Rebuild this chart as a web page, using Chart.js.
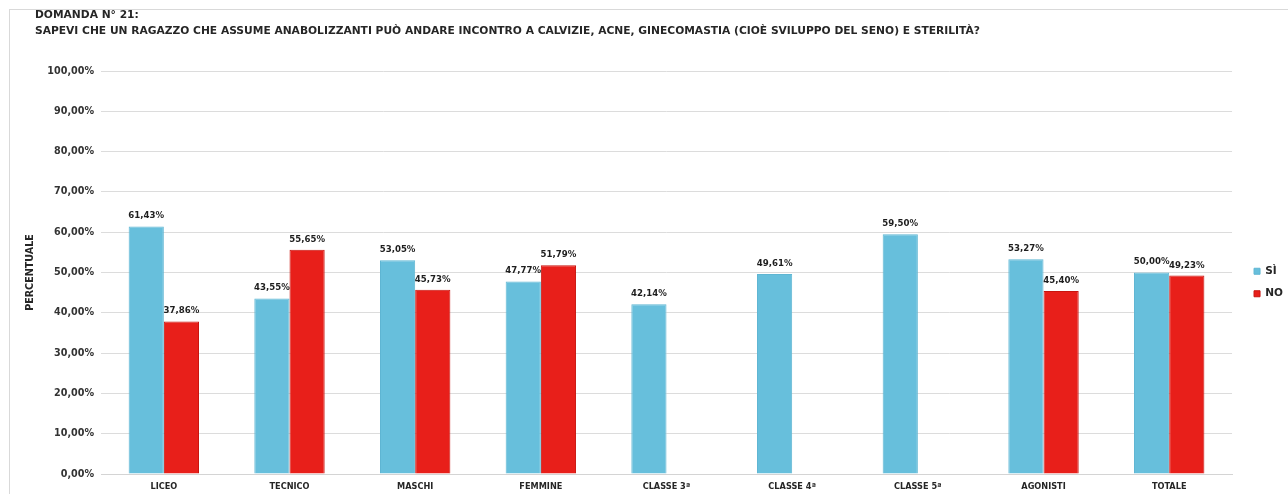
<!DOCTYPE html>
<html>
<head>
<meta charset="utf-8">
<script src="https://cdn.jsdelivr.net/npm/chart.js@4.4.1/dist/chart.umd.min.js"></script>
<style>
  html, body { margin: 0; padding: 0; background: #ffffff; }
  #wrap { width: 1288px; height: 494px; position: relative; }
</style>
</head>
<body>
<div id="wrap"><canvas id="chart" width="1288" height="494"></canvas></div>
<script>
// Survey question 21 – answers split by school type, sex, class year and athletes
const categories = ['LICEO', 'TECNICO', 'MASCHI', 'FEMMINE', 'CLASSE 3ª', 'CLASSE 4ª', 'CLASSE 5ª', 'AGONISTI', 'TOTALE'];
const siValues = [61.43, 43.55, 53.05, 47.77, 42.14, 49.61, 59.50, 53.27, 50.00];
const noValues = [37.86, 55.65, 45.73, 51.79, null, null, null, 45.40, 49.23];
const seriesNames = ['SÌ', 'NO'];
const yTickValues = [0, 10, 20, 30, 40, 50, 60, 70, 80, 90, 100];
const titleLines = [
  'DOMANDA N° 21:',
  'SAPEVI CHE UN RAGAZZO CHE ASSUME ANABOLIZZANTI PUÒ ANDARE INCONTRO A CALVIZIE, ACNE, GINECOMASTIA (CIOÈ SVILUPPO DEL SENO) E STERILITÀ?'
];
const axisTitle = 'PERCENTUALE';

const FONT = '"DejaVu Sans", "Liberation Sans", sans-serif';
const TEXT = '#262626';
const fmtPct = v => v.toFixed(2).replace('.', ',') + '%';

// light frame around the whole chart
const framePlugin = {
  id: 'frame',
  beforeDraw(chart) {
    const ctx = chart.ctx;
    ctx.save();
    ctx.strokeStyle = '#d9d9d9';
    ctx.lineWidth = 1;
    ctx.strokeRect(9.5, 9.5, chart.width + 10, chart.height + 10);
    ctx.restore();
  }
};

// two-line heading at the top left
const headingPlugin = {
  id: 'heading',
  afterDraw(chart) {
    const ctx = chart.ctx;
    ctx.save();
    ctx.fillStyle = TEXT;
    ctx.font = 'bold 10.7px ' + FONT;
    ctx.textBaseline = 'middle';
    ctx.textAlign = 'left';
    ctx.fillText(titleLines[0], 35, 15);
    ctx.fillText(titleLines[1], 35, 31);
    ctx.restore();
  }
};

// value labels above every bar
const valueLabelPlugin = {
  id: 'valueLabels',
  afterDatasetsDraw(chart) {
    const ctx = chart.ctx;
    ctx.save();
    ctx.fillStyle = '#1e1e1e';
    ctx.font = 'bold 8.6px ' + FONT;
    ctx.textAlign = 'center';
    ctx.textBaseline = 'bottom';
    chart.data.datasets.forEach((ds, di) => {
      const meta = chart.getDatasetMeta(di);
      meta.data.forEach((bar, i) => {
        const v = ds.data[i];
        if (v === null || v === undefined) return;
        ctx.fillText(fmtPct(v), bar.x, bar.y - 6);
      });
    });
    ctx.restore();
  }
};

// move legend entries a little away from the plot
const legendShift = {
  id: 'legendShift',
  afterLayout(chart) {
    if (chart.legend) {
      chart.legend.left += 10;
      chart.legend.right += 10;
    }
  }
};

new Chart(document.getElementById('chart'), {
  type: 'bar',
  data: {
    labels: categories,
    datasets: [
      {
        label: seriesNames[0],
        data: siValues,
        backgroundColor: '#67bfdc',
        borderColor: '#5fb6d3',
        borderWidth: 1,
        barPercentage: 1.0,
        categoryPercentage: 0.56
      },
      {
        label: seriesNames[1],
        data: noValues,
        backgroundColor: '#e81f1a',
        borderColor: '#c8150f',
        borderWidth: 1,
        barPercentage: 1.0,
        categoryPercentage: 0.56
      }
    ]
  },
  options: {
    responsive: false,
    animation: false,
    devicePixelRatio: 1,
    layout: { padding: { top: 71, left: 0, right: 5, bottom: 0 } },
    plugins: {
      title: { display: false },
      tooltip: { enabled: false },
      legend: {
        position: 'right',
        align: 'center',
        labels: {
          boxWidth: 6,
          boxHeight: 6,
          padding: 12,
          color: TEXT,
          font: { family: FONT, size: 10.5, weight: 'bold' }
        }
      }
    },
    scales: {
      x: {
        grid: { display: false, drawTicks: false },
        border: { display: true, color: '#d4d4d4' },
        ticks: {
          color: TEXT,
          padding: 8,
          maxRotation: 0,
          autoSkip: false,
          font: { family: FONT, size: 8.2, weight: 'bold' }
        },
        afterFit(scale) { scale.height = 20; }
      },
      y: {
        min: 0,
        max: 100,
        afterBuildTicks(scale) { scale.ticks = yTickValues.map(v => ({ value: v })); },
        grid: { color: '#dcdcdc', drawTicks: false },
        border: { display: false },
        ticks: {
          color: '#333333',
          padding: 7,
          font: { family: FONT, size: 9.6, weight: 'bold' },
          callback: v => fmtPct(v)
        },
        title: {
          display: true,
          text: axisTitle,
          color: TEXT,
          padding: { top: 25, bottom: 0 },
          font: { family: FONT, size: 9.6, weight: 'bold' }
        },
        afterFit(scale) { scale.width = 101; }
      }
    }
  },
  plugins: [framePlugin, headingPlugin, valueLabelPlugin, legendShift]
});
</script>
</body>
</html>
